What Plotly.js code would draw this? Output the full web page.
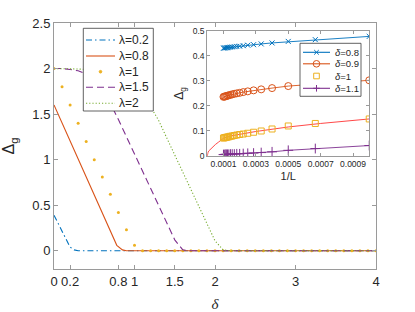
<!DOCTYPE html>
<html>
<head>
<meta charset="utf-8">
<script src="https://cdn.plot.ly/plotly-3.0.1.min.js"></script>
<style>html,body{margin:0;padding:0;background:#fff;}#chart{width:415px;height:312px;}</style>
</head>
<body>
<div id="chart"></div>
<script>
// ---- main chart data ----
const xL02 = [0, 0.1, 0.2, 0.25, 0.3, 4];
const yL02 = [0.39, 0.21, 0.04, 0.01, 0, 0];

const xL08 = [0, 0.2, 0.4, 0.6, 0.78, 0.85, 0.9, 4];
const yL08 = [1.6, 1.21, 0.82, 0.42, 0.06, 0.01, 0, 0];

const xL1 = [0,0.1,0.2,0.3,0.4,0.5,0.6,0.7,0.8,0.9,1.0,1.1,1.2,1.3,1.4,1.5,1.6,1.7,1.8,1.9,2.0,
             2.1,2.2,2.3,2.4,2.5,2.6,2.7,2.8,2.9,3.0,3.1,3.2,3.3,3.4,3.5,3.6,3.7,3.8,3.9,4.0];
const yL1 = [2.0,1.8,1.6,1.4,1.2,1.0,0.81,0.62,0.42,0.23,0.06,0,0,0,0,0,0,0,0,0,0,
             0,0,0,0,0,0,0,0,0,0,0,0,0,0,0,0,0,0,0,0];

const xL15 = [0,0.1,0.2,0.3,0.4,0.5,0.6,0.7,0.8,0.9,1.0,1.1,1.2,1.3,1.4,1.5,1.6,1.7,4];
const yL15 = [2.0,2.0,1.99,1.975,1.94,1.87,1.76,1.62,1.44,1.25,1.06,0.87,0.68,0.5,0.31,0.12,0.01,0,0];

const xL2 = [0,0.1,0.2,0.3,0.4,0.5,0.6,0.7,0.8,0.9,1.0,1.1,1.2,1.3,1.4,1.5,1.6,1.7,1.8,1.9,2.0,2.1,2.2,4];
const yL2 = [2.0,2.0,2.0,1.995,1.99,1.98,1.96,1.93,1.89,1.84,1.77,1.69,1.58,1.43,1.24,1.05,0.86,0.67,0.48,0.29,0.11,0.01,0,0];

const mainNames = ['λ=0.2', 'λ=0.8', 'λ=1', 'λ=1.5', 'λ=2'];
const mainXTicks = [0, 0.2, 0.8, 1, 1.5, 2, 3, 4];
const mainXTickText = ['0', '0.2', '0.8', '1', '1.5', '2', '3', '4'];
const mainYTicks = [0, 0.5, 1, 1.5, 2, 2.5];
const mainYTickText = ['0', '0.5', '1', '1.5', '2', '2.5'];

// ---- inset data ----
const invL = [0.001, 0.000667, 0.0005, 0.0004, 0.000333, 0.000286, 0.00025, 0.000222, 0.0002,
              0.000182, 0.000167, 0.000154, 0.000143, 0.000133, 0.000125, 0.000118, 0.000111, 0.000105, 0.0001];
const gD08 = [0.477,0.464,0.457,0.451,0.447,0.444,0.442,0.440,0.438,0.437,0.436,0.435,0.434,0.433,0.432,0.432,0.431,0.431,0.430];
const gD09 = [0.302,0.288,0.279,0.271,0.266,0.262,0.258,0.255,0.252,0.250,0.248,0.246,0.244,0.242,0.241,0.239,0.238,0.237,0.236];
const gD10 = [0.148,0.130,0.120,0.108,0.100,0.095,0.091,0.088,0.086,0.084,0.082,0.080,0.079,0.077,0.076,0.075,0.074,0.073,0.072];
const gD11 = [0.042,0.030,0.023,0.017,0.014,0.012,0.011,0.010,0.009,0.009,0.008,0.008,0.008,0.007,0.007,0.007,0.007,0.006,0.006];

const fitX = [0, 0.000002, 0.000005, 0.00001, 0.00002, 0.00003, 0.00005, 0.00007, 0.0001, 0.00015, 0.0002, 0.0003, 0.0004, 0.0005, 0.0007, 0.001];
const fitY = [0, 0.01, 0.016, 0.021, 0.028, 0.035, 0.046, 0.056, 0.071, 0.081, 0.087, 0.098, 0.107, 0.116, 0.13, 0.148];

const insetNames = ['<i>δ</i>=0.8', '<i>δ</i>=0.9', '<i>δ</i>=1', '<i>δ</i>=1.1'];
const insetXTicks = [0.0001, 0.0003, 0.0005, 0.0007, 0.0009];
const insetXTickText = ['0.0001', '0.0003', '0.0005', '0.0007', '0.0009'];
const insetYTicks = [0, 0.1, 0.2, 0.3, 0.4, 0.5];
const insetYTickText = ['0', '0.1', '0.2', '0.3', '0.4', '0.5'];

const C = {blue:'#0072BD', orange:'#D95319', yellow:'#EDB120', purple:'#7E2F8E', green:'#77AC30', red:'#FF3333'};
const DASH = {dashdot:'6px,3px,1.5px,3px', dash:'7px,4px', dot:'1.2px,2px'};

const traces = [
  {x:xL02, y:yL02, mode:'lines', name:mainNames[0], line:{color:C.blue, width:1.1, dash:DASH.dashdot}},
  {x:xL08, y:yL08, mode:'lines', name:mainNames[1], line:{color:C.orange, width:1.1}},
  {x:xL1, y:yL1, mode:'markers', name:mainNames[2], marker:{color:C.yellow, size:3, symbol:'circle'}},
  {x:xL15, y:yL15, mode:'lines', name:mainNames[3], line:{color:C.purple, width:1.1, dash:DASH.dash}},
  {x:xL2, y:yL2, mode:'lines', name:mainNames[4], line:{color:C.green, width:1.1, dash:DASH.dot}},

  {x:fitX, y:fitY, mode:'lines', xaxis:'x2', yaxis:'y2', line:{color:C.red, width:0.9}},
  {x:invL, y:gD08, mode:'lines+markers', name:insetNames[0], xaxis:'x2', yaxis:'y2',
   line:{color:C.blue, width:0.9}, marker:{symbol:'x-thin', size:5, color:C.blue, line:{color:C.blue, width:1}}},
  {x:invL, y:gD09, mode:'lines+markers', name:insetNames[1], xaxis:'x2', yaxis:'y2',
   line:{color:C.orange, width:0.9}, marker:{symbol:'circle-open', size:7, color:C.orange, line:{width:1}}},
  {x:invL, y:gD10, mode:'markers', name:insetNames[2], xaxis:'x2', yaxis:'y2',
   marker:{symbol:'square-open', size:6, color:C.yellow, line:{width:1}}},
  {x:invL, y:gD11, mode:'lines+markers', name:insetNames[3], xaxis:'x2', yaxis:'y2',
   line:{color:C.purple, width:0.9}, marker:{symbol:'cross-thin', size:7, color:C.purple, line:{color:C.purple, width:1}}}
];

// ---- custom legends (MATLAB-style compact boxes), drawn with shapes + annotations ----
const ML = 54, MT = 23, PW = 322, PH = 246;
const PX = p => (p - ML) / PW;
const PY = p => (MT + PH - p) / PH;
const shapes = [];
const annotations = [];
const fontFam = 'Liberation Sans, Arial, sans-serif';

function legendBox(x0, y0, x1, y1) {
  shapes.push({type:'rect', xref:'paper', yref:'paper', x0:PX(x0), x1:PX(x1), y0:PY(y0), y1:PY(y1),
    fillcolor:'#ffffff', line:{color:'#3a3a3a', width:0.8}, layer:'above'});
}
function sampleLine(x0, x1, y, color, dash) {
  shapes.push({type:'line', xref:'paper', yref:'paper', x0:PX(x0), x1:PX(x1), y0:PY(y), y1:PY(y),
    line:{color:color, width:1.1, dash:dash || 'solid'}, layer:'above'});
}
function sampleMarker(kind, cx, cy, r, color, filled) {
  const l = {color:color, width:1};
  if (kind === 'circle') {
    shapes.push({type:'circle', xref:'paper', yref:'paper', x0:PX(cx-r), x1:PX(cx+r), y0:PY(cy-r), y1:PY(cy+r),
      line:l, fillcolor: filled ? color : 'rgba(0,0,0,0)', layer:'above'});
  } else if (kind === 'square') {
    shapes.push({type:'rect', xref:'paper', yref:'paper', x0:PX(cx-r), x1:PX(cx+r), y0:PY(cy-r), y1:PY(cy+r),
      line:l, fillcolor:'rgba(0,0,0,0)', layer:'above'});
  } else if (kind === 'x') {
    shapes.push({type:'path', xref:'paper', yref:'paper', layer:'above', line:l,
      path:`M${PX(cx-r)},${PY(cy-r)} L${PX(cx+r)},${PY(cy+r)} M${PX(cx-r)},${PY(cy+r)} L${PX(cx+r)},${PY(cy-r)}`});
  } else if (kind === 'plus') {
    shapes.push({type:'path', xref:'paper', yref:'paper', layer:'above', line:l,
      path:`M${PX(cx-r)},${PY(cy)} L${PX(cx+r)},${PY(cy)} M${PX(cx)},${PY(cy-r)} L${PX(cx)},${PY(cy+r)}`});
  }
}
function legendText(x, y, text, size) {
  annotations.push({xref:'paper', yref:'paper', x:PX(x), y:PY(y), xanchor:'left', yanchor:'middle',
    text:text, showarrow:false, borderpad:0, font:{size:size, family:fontFam, color:'#262626'}});
}

// main legend
legendBox(83.3, 28.3, 153.3, 111);
const mainRows = [40, 56, 71.7, 87.3, 103.3];
sampleLine(86, 115, mainRows[0], C.blue, DASH.dashdot);
sampleLine(86, 115, mainRows[1], C.orange, 'solid');
sampleMarker('circle', 100.5, mainRows[2], 1.3, C.yellow, true);
sampleLine(86, 115, mainRows[3], C.purple, DASH.dash);
sampleLine(86, 115, mainRows[4], C.green, DASH.dot);
mainNames.forEach((n, i) => legendText(118.3, mainRows[i], n, 12));

// inset legend
legendBox(300, 43.3, 361, 96.3);
const insRows = [52.3, 63.8, 76, 88.3];
sampleLine(303, 330, insRows[0], C.blue, 'solid');
sampleMarker('x', 316.5, insRows[0], 2.3, C.blue);
sampleLine(303, 330, insRows[1], C.orange, 'solid');
sampleMarker('circle', 316.5, insRows[1], 3.3, C.orange, false);
sampleMarker('square', 316.5, insRows[2], 2.8, C.yellow);
sampleLine(303, 330, insRows[3], C.purple, 'solid');
sampleMarker('plus', 316.5, insRows[3], 3.3, C.purple);
insetNames.forEach((n, i) => legendText(333.5, insRows[i], n, 9.5));

const axCommon = {showgrid:false, zeroline:false, showline:true, linecolor:'#9a9a9a', linewidth:1,
  mirror:'ticks', ticks:'inside', tickcolor:'#9a9a9a', tickwidth:1};

const layout = {
  width:415, height:312, autosize:false,
  margin:{l:ML, r:415 - ML - PW, t:MT, b:312 - MT - PH, pad:0},
  paper_bgcolor:'#fff', plot_bgcolor:'#fff',
  font:{family:fontFam, color:'#262626'},
  showlegend:false,
  xaxis:Object.assign({}, axCommon, {range:[0,4], tickmode:'array', tickvals:mainXTicks, ticktext:mainXTickText,
    ticklen:4, tickfont:{size:13, color:'#262626'},
    title:{text:'<i>δ</i>', font:{size:15, family:'Liberation Serif, serif', color:'#262626'}, standoff:11}}),
  yaxis:Object.assign({}, axCommon, {range:[-0.2,2.5], tickmode:'array', tickvals:mainYTicks, ticktext:mainYTickText,
    ticklen:4, tickfont:{size:13, color:'#262626'},
    title:{text:'Δ<sub>g</sub>', font:{size:16, color:'#262626'}, standoff:13}}),
  xaxis2:Object.assign({}, axCommon, {domain:[0.476,0.979], anchor:'y2', range:[0,0.001],
    tickmode:'array', tickvals:insetXTicks, ticktext:insetXTickText, ticklen:3, tickfont:{size:8.5, color:'#262626'},
    title:{text:'1/L', font:{size:11, color:'#262626'}, standoff:4}}),
  yaxis2:Object.assign({}, axCommon, {domain:[0.459,0.969], anchor:'x2', range:[0,0.5],
    tickmode:'array', tickvals:insetYTicks, ticktext:insetYTickText, ticklen:3, tickfont:{size:8.5, color:'#262626'},
    title:{text:'Δ<sub>g</sub>', font:{size:12, color:'#262626'}, standoff:6}}),
  shapes:shapes,
  annotations:annotations
};

Plotly.newPlot('chart', traces, layout, {staticPlot:true, displayModeBar:false});
</script>
</body>
</html>
